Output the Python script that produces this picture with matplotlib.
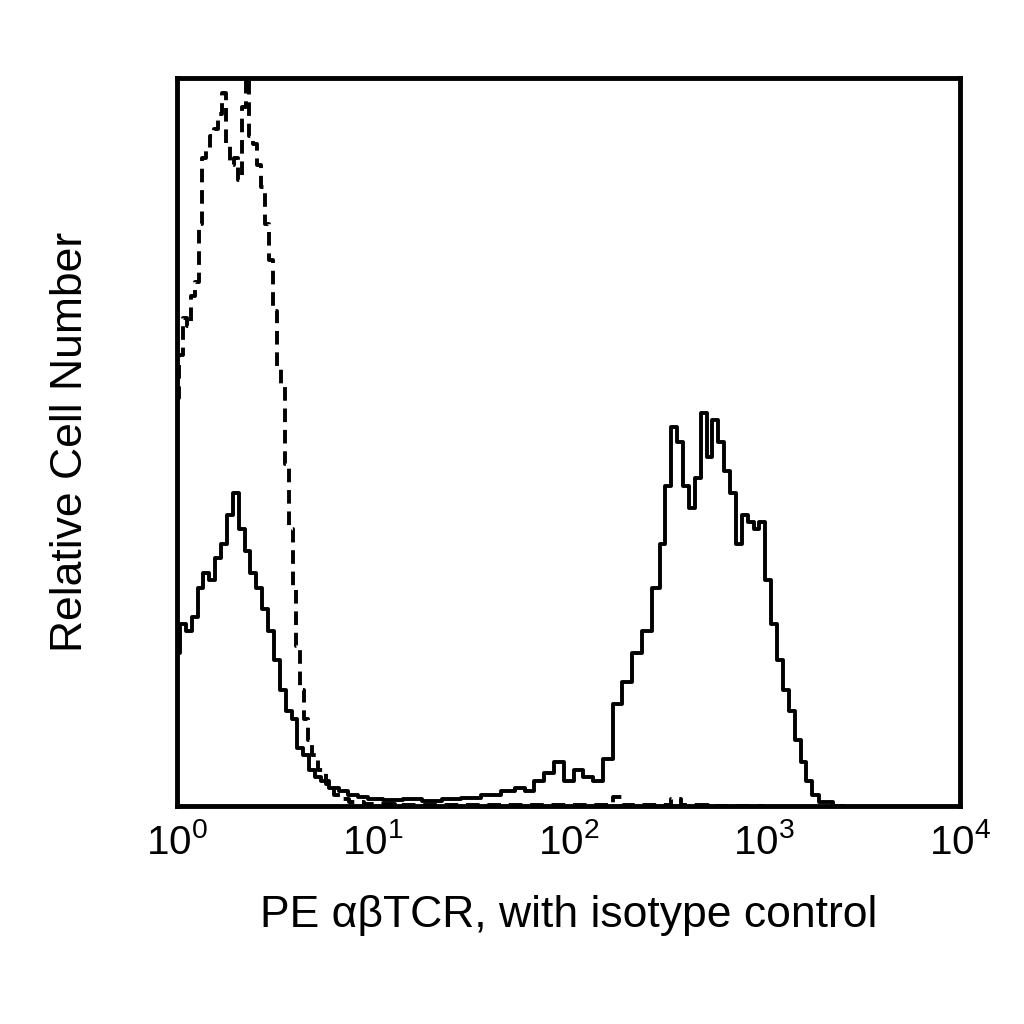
import matplotlib
matplotlib.use("Agg")
import matplotlib.pyplot as plt
import numpy as np

plt.rcParams['font.family'] = ['Liberation Sans', 'DejaVu Sans']
plt.rcParams['mathtext.fontset'] = 'custom'
plt.rcParams['mathtext.rm'] = 'Liberation Sans'

# log10 of fluorescence, relative counts (0-100)
solid_logx = [0.0, 0.03, 0.06, 0.09, 0.12, 0.15, 0.18, 0.21, 0.24, 0.27, 0.30, 0.33, 0.36, 0.39, 0.42,
              0.45, 0.48, 0.51, 0.54, 0.57, 0.60, 0.63, 0.66, 0.69, 0.72, 0.75, 0.80, 0.85, 0.90, 0.95,
              1.0, 1.1, 1.2, 1.3, 1.4, 1.5, 1.6, 1.7, 1.75, 1.8, 1.85, 1.9, 1.95, 2.0, 2.05, 2.1, 2.15,
              2.2, 2.25, 2.3, 2.35, 2.4, 2.45, 2.48, 2.51, 2.54, 2.57, 2.6, 2.63, 2.66, 2.69, 2.72,
              2.75, 2.78, 2.81, 2.84, 2.87, 2.9, 2.93, 2.96, 2.99, 3.02, 3.05, 3.08, 3.11, 3.14, 3.17,
              3.2, 3.23, 3.26, 3.3, 3.4]
solid_y = [21, 25, 24, 26, 30, 32, 31, 34, 36, 40, 43, 38, 35, 32, 30,
           27, 24, 20, 16, 13, 12, 8, 7, 5, 4, 3.5, 2.5, 2, 1.5, 1.2,
           1.0, 0.8, 1.0, 0.7, 0.9, 1.1, 1.5, 2.0, 2.5, 2.0, 3.5, 4.5, 6.0, 3.5, 5.0, 4.0, 3.5,
           6.5, 14, 17, 21, 24, 30, 36, 44, 52, 50, 44, 41, 45, 54, 48,
           53, 50, 46, 43, 36, 40, 39, 38, 39, 31, 25, 20, 16, 13, 9,
           6, 3.5, 1.5, 0.5, 0]

dash_logx = [0.0, 0.02, 0.04, 0.06, 0.08, 0.10, 0.12, 0.14, 0.16, 0.18, 0.20, 0.22, 0.24, 0.26,
             0.28, 0.30, 0.32, 0.34, 0.36, 0.38, 0.40, 0.42, 0.44, 0.46, 0.48, 0.50, 0.52, 0.54,
             0.56, 0.58, 0.60, 0.62, 0.64, 0.66, 0.68, 0.70, 0.74, 0.78, 0.82, 0.86, 0.9, 1.0, 1.2,
             1.4, 1.6, 1.8, 2.0, 2.2, 2.25, 2.3, 2.5, 2.55, 2.6, 2.8, 3.0]
dash_y = [56, 62, 67, 66, 70, 72, 80, 89, 90, 92, 93, 95, 98, 91,
          88, 89, 86, 96, 100, 92, 91, 88, 85, 80, 75, 68, 60, 58,
          47, 38, 30, 22, 16, 12, 9, 7, 5, 3, 1.5, 1.0, 0.5, 0.3, 0.2,
          0.1, 0.1, 0.1, 0.1, 0.2, 1.2, 0.2, 0.1, 1.0, 0.1, 0, 0]

fig = plt.figure(figsize=(10.24, 10.24), dpi=100)
ax = fig.add_axes([177/1024, 1 - 806/1024, 783/1024, 728/1024])
ax.plot(10**np.array(solid_logx), solid_y, color='black', lw=2.8, drawstyle='steps-mid')
ax.plot(10**np.array(dash_logx), dash_y, color='black', lw=2.8, ls=(0, (3.5, 2)), drawstyle='steps-mid')
ax.set_xscale('log')
ax.set_xlim(1, 1e4)
ax.set_ylim(0, 100)
ax.set_yticks([])
ax.set_xticks([1, 10, 100, 1000, 10000])
ax.set_xticklabels([r'$\mathregular{10^{%d}}$' % i for i in range(5)], fontsize=29)
ax.minorticks_off()
ax.tick_params(axis='x', length=0, pad=12)
for s in ax.spines.values():
    s.set_linewidth(3.5)
ax.set_xlabel('PE αβTCR, with isotype control', fontsize=32, labelpad=24)
ax.set_ylabel('Relative Cell Number', fontsize=32, labelpad=62)
fig.savefig('out.png', dpi=100)
